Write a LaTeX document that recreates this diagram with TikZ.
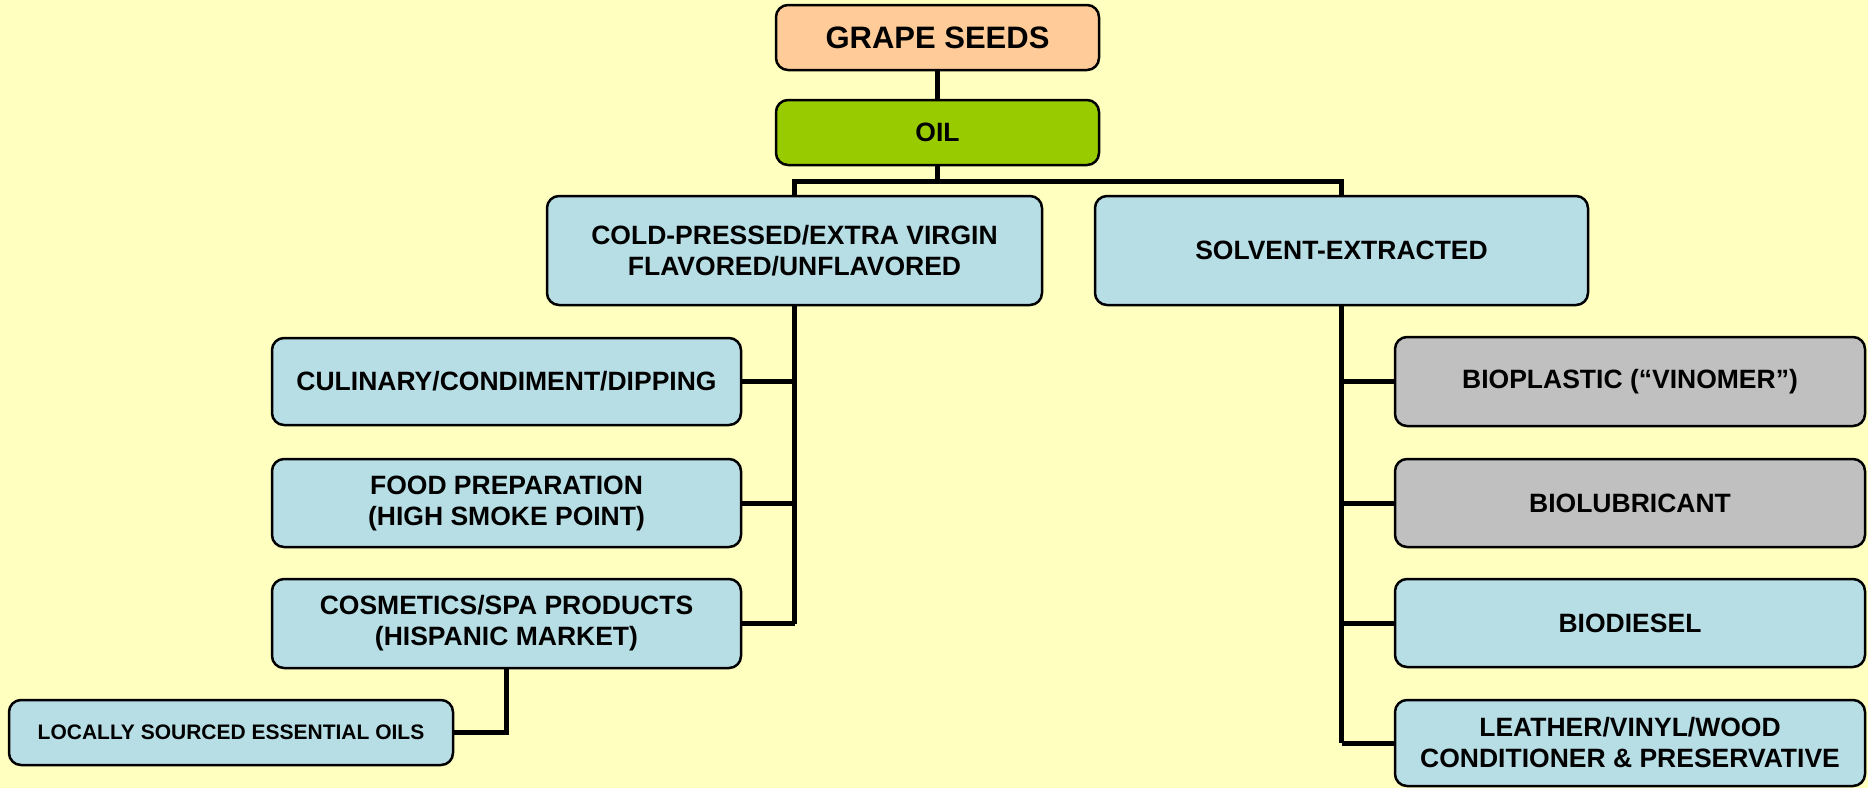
\documentclass[tikz,border=0pt]{standalone}
\usepackage{fontspec}
\setmainfont{Liberation Sans}
\usepackage{tikz}

\definecolor{bgyellow}{RGB}{255,255,192}
\definecolor{peach}{RGB}{255,204,153}
\definecolor{oilgreen}{RGB}{153,204,0}
\definecolor{paleblue}{RGB}{183,222,229}
\definecolor{midgray}{RGB}{192,192,192}

\tikzset{
	box/.style={draw=black, line width=2.5pt, rounded corners=12pt, inner sep=0pt,
		align=center, font=\bfseries\fontsize{26.5}{31}\selectfont},
	bluebox/.style={box, fill=paleblue},
	graybox/.style={box, fill=midgray},
	link/.style={line width=5pt}
}

\begin{document}
\begin{tikzpicture}[x=1pt, y=1pt]
	
	\fill[bgyellow] (0, 0) rectangle (1868, -788);
	\useasboundingbox (0, 0) rectangle (1868, -788);
	
	\node[box, fill=peach, minimum width=323pt, minimum height=65pt, font=\bfseries\fontsize{31}{31}\selectfont] (seeds) at (937.5, -37.5) {GRAPE SEEDS};
	\node[box, fill=oilgreen, minimum width=323pt, minimum height=65pt] (oil) at (937.5, -132.5) {OIL};
	
	\node[bluebox, minimum width=495pt, minimum height=109pt] (cold) at (794.5, -250.5) {COLD-PRESSED/EXTRA VIRGIN\\FLAVORED/UNFLAVORED};
	\node[bluebox, minimum width=493pt, minimum height=109pt] (solvent) at (1341.5, -250.5) {SOLVENT-EXTRACTED};
	
	\node[bluebox, minimum width=469pt, minimum height=87pt] (culinary) at (506.5, -381.5) {CULINARY/CONDIMENT/DIPPING};
	\node[bluebox, minimum width=469pt, minimum height=88pt] (food) at (506.5, -503) {FOOD PREPARATION\\(HIGH SMOKE POINT)};
	\node[bluebox, minimum width=469pt, minimum height=89pt] (cosmetics) at (506.5, -623.5) {COSMETICS/SPA PRODUCTS\\(HISPANIC MARKET)};
	\node[bluebox, minimum width=444pt, minimum height=65pt, font=\bfseries\fontsize{21}{21}\selectfont] (essential) at (231, -732.5) {LOCALLY SOURCED ESSENTIAL OILS};
	
	\node[graybox, minimum width=470pt, minimum height=89pt] (bioplastic) at (1630, -381.5) {BIOPLASTIC (“VINOMER”)};
	\node[graybox, minimum width=470pt, minimum height=88pt] (biolube) at (1630, -503) {BIOLUBRICANT};
	\node[bluebox, minimum width=470pt, minimum height=88pt] (biodiesel) at (1630, -623) {BIODIESEL};
	\node[bluebox, minimum width=470pt, minimum height=86pt] (leather) at (1630, -743) {LEATHER/VINYL/WOOD\\CONDITIONER \& PRESERVATIVE};
	
	\coordinate (bus) at (937.5, -181);
	
	\draw[link] (seeds) -- (oil);
	\draw[link] (oil) -- (bus);
	\draw[link] (cold.north) |- (bus) -| (solvent.north);
	
	\draw[link] (cold.south) -- (cold.south |- cosmetics.east);
	\draw[link] (culinary.east) -- (culinary.east -| cold.south);
	\draw[link] (food.east) -- (food.east -| cold.south);
	\draw[link] (cosmetics.east) -- (cosmetics.east -| cold.south);
	\draw[link] (cosmetics.south) |- (essential.east);
	
	\draw[link] (solvent.south) -- (solvent.south |- leather.west);
	\draw[link] (bioplastic.west) -- (bioplastic.west -| solvent.south);
	\draw[link] (biolube.west) -- (biolube.west -| solvent.south);
	\draw[link] (biodiesel.west) -- (biodiesel.west -| solvent.south);
	\draw[link] (leather.west) -- (leather.west -| solvent.south);
	
\end{tikzpicture}
\end{document}
